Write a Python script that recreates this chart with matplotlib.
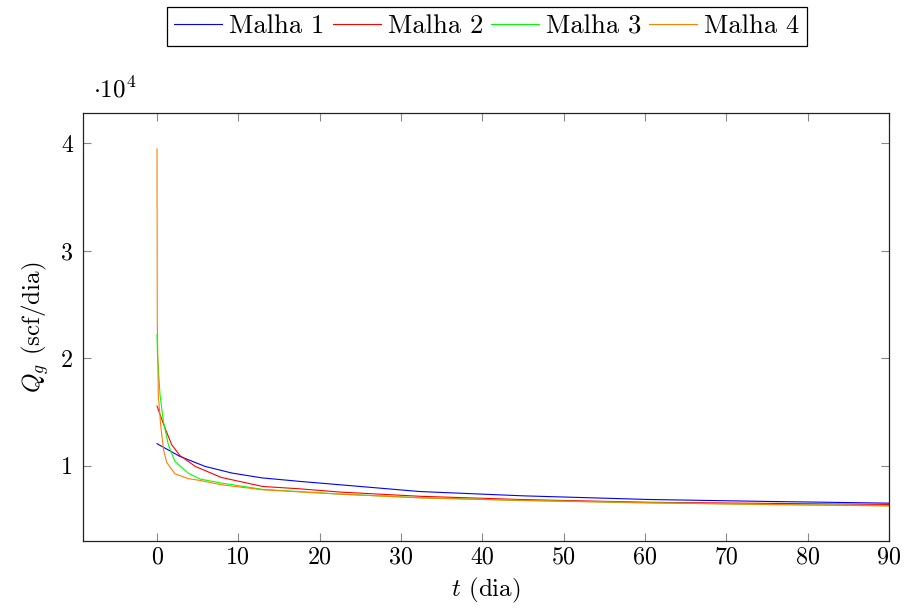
import matplotlib
matplotlib.use("Agg")
import matplotlib.pyplot as plt

plt.rcParams['font.family'] = 'serif'
plt.rcParams['font.serif'] = ['cmr10', 'DejaVu Serif']
plt.rcParams['mathtext.fontset'] = 'cm'
plt.rcParams['axes.formatter.use_mathtext'] = True

# Data (t in days, Qg in scf/day)
t1 = [0, 2.8, 5.9, 9.2, 12.9, 17.6, 22.5, 32.3, 45, 60.5, 75, 90]
q1 = [12050, 10870, 9940, 9320, 8870, 8540, 8230, 7600, 7200, 6860, 6680, 6520]

t2 = [0, 0.98, 1.8, 2.8, 4.7, 7.9, 13, 17.6, 22.5, 32.3, 45, 60.5, 75, 90]
q2 = [15550, 13510, 11960, 10960, 9940, 8910, 8070, 7850, 7550, 7160, 6850, 6600, 6500, 6400]

t3 = [0, 0.05, 0.37, 0.78, 1.39, 2.2, 3.85, 5.3, 7.9, 13, 22.5, 32.3, 45, 60.5, 75, 90]
q3 = [22200, 20500, 16600, 14130, 11960, 10400, 9300, 8760, 8390, 7800, 7360, 7020, 6770, 6550, 6400, 6270]

t4 = [0, 0.03, 0.16, 0.45, 0.8, 1.19, 2.2, 3.85, 5.3, 7.9, 13, 22.5, 32.3, 45, 60.5, 75, 90]
q4 = [39450, 23600, 16600, 13800, 11500, 10300, 9250, 8800, 8630, 8230, 7760, 7360, 7020, 6770, 6550, 6400, 6270]

labels = ['Malha 1', 'Malha 2', 'Malha 3', 'Malha 4']
colors = ['#0000ff', '#ff0000', '#00ff00', '#ff8000']

xticks = [0, 10, 20, 30, 40, 50, 60, 70, 80, 90]
yticks = [10000, 20000, 30000, 40000]
yticklabels = ['1', '2', '3', '4']

FS = 17.3

fig = plt.figure(figsize=(9.07, 6.10), dpi=100)
ax = fig.add_axes([83/907, 1-541/610, (889-83)/907, (541-113)/610])

for t, q, lab, c in zip([t1, t2, t3, t4], [q1, q2, q3, q4], labels, colors):
    ax.plot(t, q, color=c, lw=0.8, label=lab)

ax.set_xlim(-9.1, 90)
ax.set_ylim(3000, 42800)
ax.set_xticks(xticks)
ax.set_xticklabels([str(x) for x in xticks])
ax.set_yticks(yticks)
ax.set_yticklabels(yticklabels)
ax.tick_params(direction='in', top=True, right=True, length=6, width=0.8,
               color='#888888', labelsize=FS)
ax.tick_params(axis='x', pad=4)
ax.tick_params(axis='y', pad=7)
for s in ax.spines.values():
    s.set_linewidth(0.9)
    s.set_color('#222222')

ax.set_xlabel(r'$t$ (dia)', fontsize=18, labelpad=5)
ax.set_ylabel(r'$Q_g$ (scf/dia)', fontsize=18, labelpad=7)
ax.text(10/806, 1.025, r'$\cdot10^4$', transform=ax.transAxes, fontsize=18,
        ha='left', va='bottom')

leg = fig.legend(loc='upper center', bbox_to_anchor=(487/907, 1-7/610), ncol=4,
                 fontsize=19.2, frameon=True, fancybox=False, edgecolor='black',
                 framealpha=1, handlelength=1.8, columnspacing=0.3,
                 handletextpad=0.26, borderpad=0.28, borderaxespad=0)
leg.get_frame().set_linewidth(0.9)

fig.savefig('out.png', dpi=100)
